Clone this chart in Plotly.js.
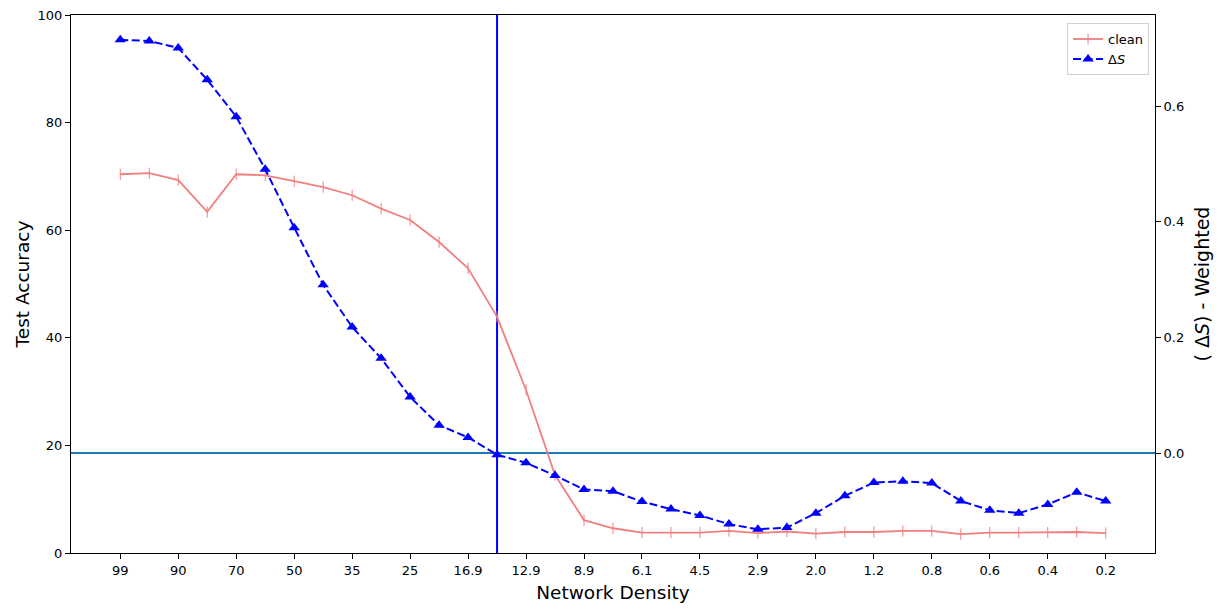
<!DOCTYPE html>
<html>
<head>
<meta charset="utf-8">
<script src="https://cdn.plot.ly/plotly-3.0.1.min.js"></script>
<style>html,body{margin:0;padding:0;background:#fff;}#chart{width:1225px;height:612px;}</style>
</head>
<body>
<div id="chart"></div>
<script>
// Tick labels shown on the x axis (every other measured density)
const densityLabels = ['99','90','70','50','35','25','16.9','12.9','8.9','6.1','4.5','2.9','2.0','1.2','0.8','0.6','0.4','0.2'];
// Position index of each measured density (35 measurements)
const pointIndex = [0,1,2,3,4,5,6,7,8,9,10,11,12,13,14,15,16,17,18,19,20,21,22,23,24,25,26,27,28,29,30,31,32,33,34];
// Test accuracy of the clean model
const cleanAcc = [70.4,70.6,69.3,63.4,70.4,70.2,69.1,68.0,66.5,64.0,61.9,57.8,52.9,43.9,30.3,14.5,6.1,4.6,3.8,3.8,3.8,4.1,3.7,4.0,3.6,3.9,3.9,4.1,4.1,3.5,3.8,3.8,3.8,3.9,3.7];
// Weighted delta S
const deltaS = [0.715,0.713,0.701,0.646,0.582,0.491,0.390,0.291,0.218,0.164,0.097,0.048,0.027,-0.003,-0.017,-0.039,-0.063,-0.066,-0.084,-0.097,-0.108,-0.123,-0.132,-0.129,-0.104,-0.074,-0.051,-0.049,-0.052,-0.083,-0.099,-0.104,-0.089,-0.068,-0.083];
// Reference lines
const thresholdIndex = 13;
const deltaSBaseline = 0.0;

const tickVals = densityLabels.map((_, i) => pointIndex[i * 2]);

const traces = [
  {
    x: pointIndex, y: cleanAcc, name: 'clean', type: 'scatter', mode: 'lines+markers',
    line: {color: '#f08080', width: 1.8},
    marker: {symbol: 'line-ns', size: 8, color: '#f08080', line: {color: '#f08080', width: 1}},
    yaxis: 'y'
  },
  {
    x: pointIndex, y: deltaS, name: 'Δ<i>S</i>', type: 'scatter', mode: 'lines+markers',
    line: {color: '#0000ff', width: 2, dash: '8px,3.5px'},
    marker: {symbol: 'triangle-up', size: 10, color: '#0000ff'},
    yaxis: 'y2'
  }
];

const n = pointIndex.length;
const pad = (n - 1) * 0.05;

const layout = {
  width: 1225, height: 612,
  margin: {l: 71, r: 70, t: 15, b: 59},
  paper_bgcolor: '#fff', plot_bgcolor: '#fff',
  font: {family: 'DejaVu Sans', size: 13, color: '#000'},
  showlegend: true,
  legend: {
    x: 0.9945, y: 0.985, xanchor: 'right', yanchor: 'top',
    bgcolor: 'rgba(255,255,255,0.8)', bordercolor: '#d0d0d0', borderwidth: 1,
    font: {family: 'DejaVu Sans', size: 13}, itemwidth: 30, tracegroupgap: 0
  },
  xaxis: {
    range: [pointIndex[0] - pad, pointIndex[n - 1] + pad],
    tickmode: 'array', tickvals: tickVals, ticktext: densityLabels,
    ticks: 'outside', ticklen: 5, tickwidth: 1, tickcolor: '#000',
    showgrid: false, zeroline: false,
    showline: true, linecolor: '#000', linewidth: 1, mirror: true,
    tickfont: {size: 13},
    title: {text: 'Network Density', font: {size: 18.5}, standoff: 9}
  },
  yaxis: {
    range: [0, 100], tickmode: 'linear', tick0: 0, dtick: 20,
    ticks: 'outside', ticklen: 5, tickwidth: 1, tickcolor: '#000',
    showgrid: false, zeroline: false,
    showline: true, linecolor: '#000', linewidth: 1, mirror: true,
    tickfont: {size: 13},
    title: {text: 'Test Accuracy', font: {size: 18.5}, standoff: 3}
  },
  yaxis2: {
    overlaying: 'y', side: 'right',
    range: [-0.173, 0.758], tickmode: 'linear', tick0: 0, dtick: 0.2, tickformat: '.1f',
    ticks: 'outside', ticklen: 5, tickwidth: 1, tickcolor: '#000',
    showgrid: false, zeroline: false,
    showline: true, linecolor: '#000', linewidth: 1,
    tickfont: {size: 13},
    title: {text: '( Δ<i>S</i>) - Weighted', font: {size: 19}, standoff: 12}
  },
  shapes: [
    {type: 'line', xref: 'x', yref: 'paper', x0: thresholdIndex, x1: thresholdIndex, y0: 0, y1: 1,
     line: {color: '#0000ff', width: 2}, layer: 'below'},
    {type: 'line', xref: 'paper', yref: 'y2', x0: 0, x1: 1, y0: deltaSBaseline, y1: deltaSBaseline,
     line: {color: '#1f77b4', width: 2}, layer: 'below'}
  ]
};

Plotly.newPlot('chart', traces, layout, {displayModeBar: false, staticPlot: true});
</script>
</body>
</html>
